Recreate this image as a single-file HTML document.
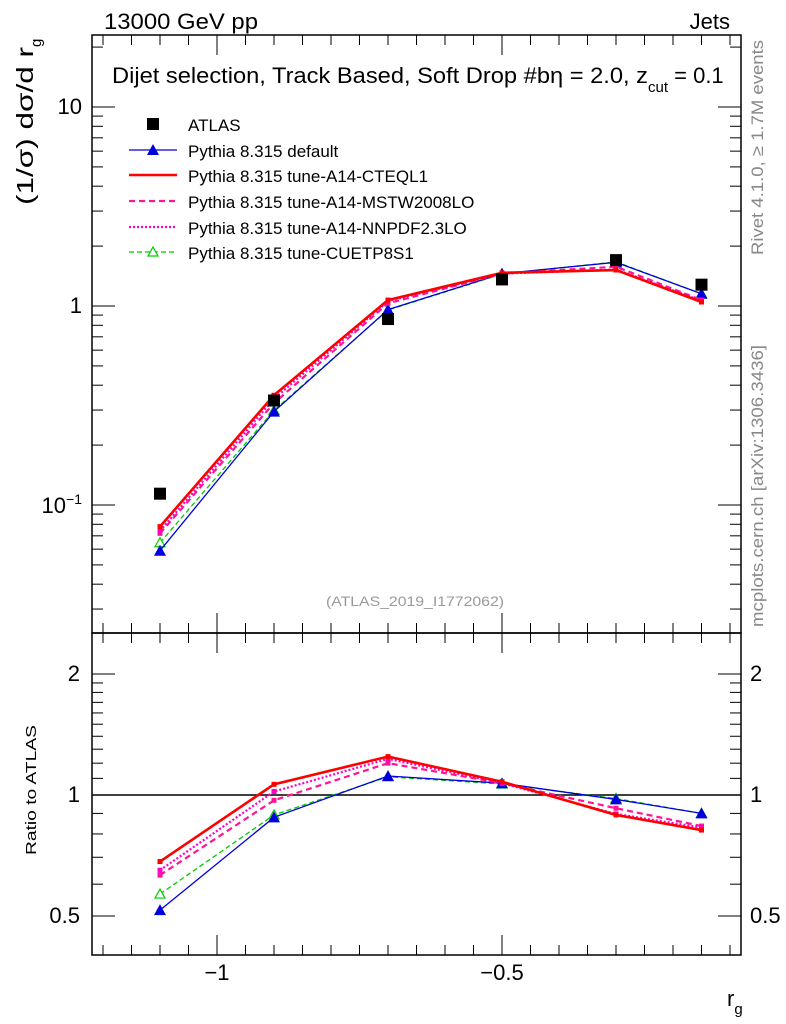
<!DOCTYPE html>
<html><head><meta charset="utf-8"><style>
html,body{margin:0;padding:0;background:#fff;}
svg{display:block;font-family:"Liberation Sans",sans-serif;}
</style></head><body>
<svg id="chart" width="786" height="1024" viewBox="0 0 786 1024" xmlns="http://www.w3.org/2000/svg">
<text x="104" y="29" font-size="22" textLength="154" lengthAdjust="spacingAndGlyphs">13000 GeV pp</text>
<text x="730" y="29" font-size="22" text-anchor="end">Jets</text>
<text x="112" y="83" font-size="22"><tspan textLength="536" lengthAdjust="spacingAndGlyphs">Dijet selection, Track Based, Soft Drop #bη = 2.0, z</tspan><tspan font-size="15" dy="9">cut</tspan><tspan dy="-9"> = 0.1</tspan></text>
<text transform="translate(33,205) rotate(-90)" font-size="23"><tspan textLength="158" lengthAdjust="spacingAndGlyphs">(1/σ) dσ/d r</tspan><tspan font-size="15" dy="8">g</tspan></text>
<text transform="translate(763,255) rotate(-90)" font-size="17" fill="#888" textLength="215" lengthAdjust="spacingAndGlyphs">Rivet 4.1.0, ≥ 1.7M events</text>
<text transform="translate(763,627) rotate(-90)" font-size="17" fill="#888" textLength="282" lengthAdjust="spacingAndGlyphs">mcplots.cern.ch [arXiv:1306.3436]</text>
<text x="326" y="606" font-size="14" fill="#999" textLength="178" lengthAdjust="spacingAndGlyphs">(ATLAS_2019_I1772062)</text>
<text transform="translate(36,855) rotate(-90)" font-size="15" textLength="130" lengthAdjust="spacingAndGlyphs">Ratio to ATLAS</text>
<text x="727" y="1006" font-size="22">r<tspan font-size="15" dy="8">g</tspan></text>
<g id="axes"></g>
<g id="marks"></g>
<g id="legend"></g>
</svg>
<script>
const xVals = [-1.1, -0.9, -0.7, -0.5, -0.3, -0.15];
const atlas = [0.114, 0.335, 0.86, 1.36, 1.70, 1.28];
const ratioDefault = [0.517, 0.88, 1.115, 1.07, 0.975, 0.90];
const ratioCTEQ = [0.683, 1.063, 1.246, 1.079, 0.892, 0.818];
const ratioMSTW = [0.632, 0.97, 1.20, 1.07, 0.927, 0.837];
const ratioNNPDF = [0.65, 1.02, 1.23, 1.07, 0.897, 0.83];
const ratioCUETP = [0.567, 0.892, 1.11, 1.065, 0.98, 0.90];
const xTicks = [-1, -0.5];
const xTickLabels = ["\u22121", "\u22120.5"];

const NS = "http://www.w3.org/2000/svg";
const L = 92, R = 741, T = 35, MB = 633, B = 955;
function X(v){ return 502 + (v + 0.5) * 570; }
function Ym(v){ return 306 - Math.log10(v) * 199; }
function Yr(v){ return 795 - Math.log10(v) * 402; }
function mk(tag, attrs, parent){ const e = document.createElementNS(NS, tag); for (const k in attrs) e.setAttribute(k, attrs[k]); parent.appendChild(e); return e; }
const axes = document.getElementById('axes');
const marks = document.getElementById('marks');
const legend = document.getElementById('legend');

let f1 = mk('rect', {x:L, y:T, width:R-L, height:MB-T, fill:'none', stroke:'#000', 'stroke-width':1.5}, axes);


let f2 = mk('rect', {x:L, y:MB, width:R-L, height:B-MB, fill:'none', stroke:'#000', 'stroke-width':1.5}, axes);



for (let i = 0; i <= 30; i++) {
  const v = -1.25 + i * 0.05;
  const x = X(v);
  if (x < L + 1 || x > R - 1) continue;
  const major = Math.abs(v * 2 - Math.round(v * 2)) < 1e-6;
  const len = major ? 20 : 10;
  for (const [y0, dir] of [[T,1],[MB,-1],[MB,1],[B,-1]]) {
    mk('line', {x1:x, x2:x, y1:y0, y2:y0 + dir * len, stroke:'#000', 'stroke-width':1}, axes);
  }
}
xTicks.forEach((v, i) => {
  const t = mk('text', {x:X(v), y:980, 'font-size':22, 'text-anchor':'middle'}, axes);
  t.textContent = xTickLabels[i];
  
  
});

for (let d = -2; d <= 1; d++) {
  for (let m = 1; m <= 9; m++) {
    const v = m * Math.pow(10, d);
    const y = Ym(v);
    if (y < T + 1 || y > MB - 1) continue;
    const len = m === 1 ? 23 : 11;
    mk('line', {x1:L, x2:L + len, y1:y, y2:y, stroke:'#000', 'stroke-width':1}, axes);
    mk('line', {x1:R, x2:R - len, y1:y, y2:y, stroke:'#000', 'stroke-width':1}, axes);
  }
}
[[10,'10'],[1,'1']].forEach(([v, s]) => {
  const t = mk('text', {x:82, y:Ym(v) + 7, 'font-size':22, 'text-anchor':'end'}, axes);
  t.textContent = s;
  
  
});
{
  const t = mk('text', {x:82, y:Ym(0.1) + 8, 'font-size':22, 'text-anchor':'end'}, axes);
  t.innerHTML = '10<tspan font-size="14" dy="-9">\u22121</tspan>';
  
  
}
const rt = [0.5,0.6,0.7,0.8,0.9,1,1.1,1.2,1.3,1.4,1.5,1.6,1.7,1.8,1.9,2];
rt.forEach(v => {
  const y = Yr(v);
  const len = (v === 0.5 || v === 1 || v === 2) ? 23 : 11;
  mk('line', {x1:L, x2:L + len, y1:y, y2:y, stroke:'#000', 'stroke-width':1}, axes);
  mk('line', {x1:R, x2:R - len, y1:y, y2:y, stroke:'#000', 'stroke-width':1}, axes);
});
[[2,'2'],[1,'1'],[0.5,'0.5']].forEach(([v, s]) => {
  const t = mk('text', {x:80, y:Yr(v) + 7, 'font-size':22, 'text-anchor':'end'}, axes);
  t.textContent = s;
  
  
  const t2 = mk('text', {x:750, y:Yr(v) + 7, 'font-size':22}, axes);
  t2.textContent = s;
  
  
});
const one = mk('line', {x1:L, x2:R, y1:Yr(1), y2:Yr(1), stroke:'#000', 'stroke-width':1.5}, axes);



const series = [
  {name:'Pythia 8.315 default', key:'default', r:ratioDefault, color:'#0000dd', w:1.3, dash:'', marker:'tri'},
  {name:'Pythia 8.315 tune-A14-CTEQL1', key:'cteql1', r:ratioCTEQ, color:'#ff0000', w:2.6, dash:'', marker:'dot'},
  {name:'Pythia 8.315 tune-A14-MSTW2008LO', key:'mstw2008lo', r:ratioMSTW, color:'#ff1493', w:2.2, dash:'6,4', marker:'dot'},
  {name:'Pythia 8.315 tune-A14-NNPDF2.3LO', key:'nnpdf23lo', r:ratioNNPDF, color:'#ff00cc', w:2.2, dash:'2,2', marker:'dot'},
  {name:'Pythia 8.315 tune-CUETP8S1', key:'cuetp8s1', r:ratioCUETP, color:'#00cc00', w:1.3, dash:'5,3', marker:'otri'}
];
function marker(type, x, y, color, parent){
  if (type === 'tri') return mk('path', {d:`M${x},${y-6}L${x+6},${y+5}L${x-6},${y+5}Z`, fill:color}, parent);
  if (type === 'otri') return mk('path', {d:`M${x},${y-5}L${x+5},${y+4}L${x-5},${y+4}Z`, fill:'#fff', stroke:color, 'stroke-width':1.2}, parent);
  return mk('rect', {x:x-2.5, y:y-2.5, width:5, height:5, fill:color}, parent);
}
[series[4], series[0], series[2], series[3], series[1]].forEach(s => {
  const mainVals = s.r.map((r, i) => r * atlas[i]);
  const p1 = mk('polyline', {points: xVals.map((x, i) => X(x) + ',' + Ym(mainVals[i])).join(' '), fill:'none', stroke:s.color, 'stroke-width':s.w, 'stroke-dasharray':s.dash}, marks);
  
  
  const p2 = mk('polyline', {points: xVals.map((x, i) => X(x) + ',' + Yr(s.r[i])).join(' '), fill:'none', stroke:s.color, 'stroke-width':s.w, 'stroke-dasharray':s.dash}, marks);
  
  
  xVals.forEach((x, i) => {
    const m1 = marker(s.marker, X(x), Ym(mainVals[i]), s.color, marks);
    
    
    const m2 = marker(s.marker, X(x), Yr(s.r[i]), s.color, marks);
    
    
  });
});
atlas.forEach((v, i) => {
  const r = mk('rect', {x:X(xVals[i]) - 6, y:Ym(v) - 6, width:12, height:12, fill:'#000'}, marks);
  
  
});

const ly = [124, 150, 175, 201, 227, 252];
{
  const g = mk('g', {}, legend);
  
  
  mk('rect', {x:147, y:ly[0]-6, width:12, height:12, fill:'#000'}, g);
  const t = mk('text', {x:188, y:ly[0]+7, 'font-size':17}, g);
  t.textContent = 'ATLAS';
}
series.forEach((s, i) => {
  const y = ly[i + 1];
  const g = mk('g', {}, legend);
  
  
  mk('line', {x1:129, x2:177, y1:y, y2:y, stroke:s.color, 'stroke-width':s.w, 'stroke-dasharray':s.dash}, g);
  if (s.marker !== 'dot') marker(s.marker, 153, y, s.color, g);
  const t = mk('text', {x:188, y:y+7, 'font-size':17}, g);
  t.textContent = s.name;
});
</script>
</body></html>
